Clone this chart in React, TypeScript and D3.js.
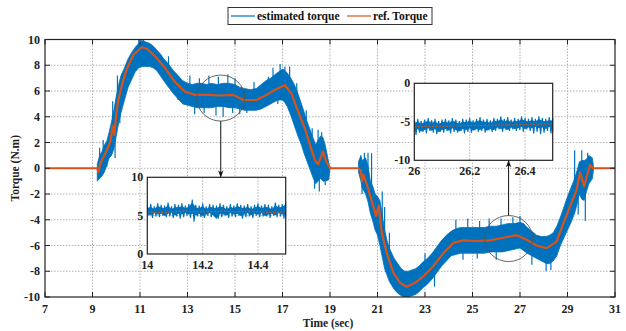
import React from "react";
import * as d3 from "d3";

// ---------- data ----------
const xTicks = [7, 9, 11, 13, 15, 17, 19, 21, 23, 25, 27, 29, 31];
const yTicks = [-10, -8, -6, -4, -2, 0, 2, 4, 6, 8, 10];

// reference torque
const refT = [7, 9.2, 9.25, 9.33, 9.53, 9.74, 9.85, 9.92, 10.0, 10.08, 10.23, 10.44, 10.72, 11.07, 11.28, 11.63, 12.05, 12.47, 12.9, 13.32, 13.86, 14.37, 14.93, 15.35, 15.9, 16.33, 16.75, 17.1, 17.38, 17.66, 17.94, 18.16, 18.37, 18.5, 18.7, 18.85, 19.0, 20.2, 20.3, 20.35, 20.4, 20.54, 20.75, 20.94, 21.05, 21.18, 21.39, 21.67, 21.95, 22.23, 22.58, 22.93, 23.35, 23.77, 24.19, 24.61, 25.17, 25.74, 26.3, 26.86, 27.28, 27.7, 28.12, 28.54, 28.82, 29.1, 29.38, 29.53, 29.7, 29.95, 30.08, 31];
const refV = [0, 0, -0.3, 0.4, 1.1, 2.0, 3.3, 2.6, 4.2, 5.2, 6.4, 7.7, 8.8, 9.4, 9.3, 8.7, 7.8, 6.7, 5.95, 5.7, 5.7, 5.65, 5.7, 5.3, 5.3, 5.7, 6.15, 6.45, 5.8, 4.4, 3.1, 1.8, 0.6, 0.3, 1.3, 0.5, 0, 0, -0.2, -1.0, -0.5, -1.2, -2.5, -3.7, -2.9, -5.0, -6.6, -8.1, -8.9, -9.2, -8.9, -8.4, -7.6, -6.6, -5.8, -5.6, -5.65, -5.6, -5.4, -5.2, -5.55, -6.0, -6.2, -5.7, -4.3, -3.0, -1.7, -0.3, -1.4, 0.25, 0, 0];

// estimated torque: envelope of the noisy signal (NaN = gap)
const estT = [9.2, 9.3, 9.4, 9.5, 9.6, 9.7, 9.8, 9.9, 10.0, 10.1, 10.2, 10.3, 10.5, 10.65, 10.8, 10.95, 11.1, 11.25, 11.4, 11.55, 11.7, 11.85, 12.0, 12.2, 12.4, 12.6, 12.8, 13.0, 13.2, 13.4, 13.6, 13.8, 14.0, 14.25, 14.5, 14.75, 15.0, 15.2, 15.4, 15.65, 15.9, 16.1, 16.3, 16.5, 16.7, 16.85, 17.0, 17.1, 17.2, 17.35, 17.5, 17.65, 17.8, 17.9, 18.0, 18.1, 18.2, 18.3, 18.4, 18.5, 18.6, 18.7, 18.8, 18.95, 19.0,
  19.5,
  20.2, 20.3, 20.35, 20.5, 20.6, 20.7, 20.8, 20.9, 21.0, 21.1, 21.2, 21.3, 21.4, 21.5, 21.6, 21.7, 21.85, 22.0, 22.15, 22.3, 22.45, 22.6, 22.75, 22.9, 23.1, 23.3, 23.5, 23.7, 23.9, 24.1, 24.3, 24.5, 24.75, 25.0, 25.25, 25.5, 25.75, 26.0, 26.25, 26.5, 26.75, 27.0, 27.15, 27.3, 27.5, 27.7, 27.9, 28.1, 28.25, 28.4, 28.55, 28.7, 28.85, 29.0, 29.15, 29.3, 29.4, 29.5, 29.6, 29.7, 29.8, 29.9, 30.05, 30.1];
const estHi = [0.3, 1.0, 1.3, 1.8, 2.1, 2.8, 3.6, 4.5, 5.6, 6.5, 7.2, 7.6, 8.5, 9.0, 9.4, 9.7, 9.9, 9.8, 9.7, 9.5, 9.2, 8.9, 8.5, 8.1, 7.6, 7.2, 6.8, 6.6, 6.5, 6.6, 6.6, 6.5, 6.6, 6.5, 6.6, 6.6, 6.5, 6.3, 6.2, 6.1, 6.2, 6.5, 6.8, 7.0, 7.3, 7.5, 7.7, 7.6, 7.4, 7.0, 6.5, 5.8, 5.0, 4.4, 3.8, 3.3, 2.8, 2.3, 1.8, 2.2, 2.5, 2.4, 1.8, 0.4, 0,
  NaN,
  0.5, 1.0, 0.6, 0.8, 0.2, -1.0, -1.4, -2.0, -2.2, -2.5, -3.6, -4.8, -5.6, -6.2, -6.6, -7.0, -7.4, -7.8, -8.0, -8.0, -7.9, -7.8, -7.6, -7.3, -7.0, -6.6, -6.1, -5.6, -5.2, -4.9, -4.7, -4.6, -4.6, -4.6, -4.6, -4.6, -4.5, -4.5, -4.4, -4.3, -4.3, -4.2, -4.3, -4.6, -4.9, -5.2, -5.3, -5.3, -5.2, -5.0, -4.5, -3.8, -3.0, -2.2, -1.5, -0.8, -0.2, 0.5, 0.6, 0.6, 0.7, 1.0, 0.8, 0];
const estLo = [-1.0, -0.8, -0.6, -0.3, 0.2, 0.8, 1.0, 1.5, 2.5, 3.5, 4.3, 5.0, 6.3, 6.9, 7.5, 7.8, 7.9, 7.9, 7.9, 7.8, 7.6, 7.2, 6.8, 6.3, 5.8, 5.4, 5.0, 4.9, 4.8, 4.7, 4.7, 4.7, 4.7, 4.8, 4.8, 4.7, 4.7, 4.6, 4.5, 4.5, 4.5, 4.6, 4.8, 5.0, 5.2, 5.3, 5.3, 5.1, 4.8, 4.1, 3.3, 2.5, 1.8, 1.2, 0.7, 0.2, -0.3, -0.8, -1.2, -1.0, -0.8, -1.0, -1.0, -0.9, 0,
  NaN,
  -0.3, -1.0, -1.5, -2.0, -2.6, -3.5, -4.1, -4.8, -5.2, -6.0, -6.9, -7.8, -8.3, -8.8, -9.1, -9.4, -9.7, -9.9, -10, -10, -9.9, -9.8, -9.6, -9.3, -9.0, -8.6, -8.1, -7.6, -7.2, -6.8, -6.7, -6.6, -6.6, -6.6, -6.6, -6.6, -6.5, -6.5, -6.5, -6.4, -6.3, -6.2, -6.4, -6.6, -6.8, -7.0, -7.2, -7.4, -7.4, -7.2, -6.8, -6.0, -5.4, -4.8, -4.2, -3.5, -2.8, -2.0, -2.4, -2.5, -1.8, -1.2, -0.8, 0];

// isolated noise spikes of the estimated torque
const spikeT = [9.3, 9.45, 9.6, 9.85, 9.95, 10.05, 10.15, 10.95, 11.05, 11.15, 12.2, 12.6, 13.1, 13.3, 13.5, 13.7, 13.9, 14.2, 14.3, 14.5, 14.7, 14.9, 15.0, 15.2, 15.5, 15.8, 16.4, 16.6, 16.8, 16.9, 17.1, 17.3, 17.6, 17.65, 18.0, 18.25, 18.35, 18.5, 18.55, 18.65, 18.8,
  20.3, 20.45, 20.6, 20.75, 20.35, 21.0, 21.3, 21.5, 21.2, 22.1, 22.3, 23.0, 23.4, 24.3, 24.6, 24.8, 25.2, 25.3, 25.7, 26.0, 26.2, 26.7, 27.0, 27.5, 28.1, 28.3, 28.9, 29.3, 29.45, 29.6, 29.75, 29.85];
const spikeV = [1.6, 2.2, 0.1, 5.2, 0.8, 7.2, 3.5, 10, 10, 10, 8.7, 5.3, 7.2, 4.2, 7.0, 4.3, 7.2, 4.1, 7.1, 4.0, 7.3, 4.3, 7.0, 4.2, 4.3, 6.7, 7.1, 7.8, 5.0, 8.1, 7.9, 7.9, 6.6, 3.0, 4.5, 3.1, -1.6, 3.0, -1.8, 2.8, -1.3,
  0.9, 1.2, 1.2, 1.16, -2.0, -5.0, -3.0, -5.0, -1.8, -10, -10, -6.6, -9.2, -4.0, -7.1, -3.9, -7.0, -4.1, -3.9, -7.1, -3.9, -3.8, -3.7, -7.5, -8.0, -7.9, -3.0, 1.4, -3.6, 1.4, -4.1, 1.2];

// zoom inset 1 (14 .. 14.5 s)
const in1XTicks = [14, 14.2, 14.4];
const in1YTicks = [0, 5, 10];
const in1Hi = [6.3, 6.5, 6.2, 6.6, 6.4, 6.3, 6.7, 6.2, 6.5, 6.4, 6.6, 6.3, 6.5, 7.1, 6.4, 6.3, 6.6, 6.2, 6.5, 6.4, 6.3, 6.6, 6.4, 6.2, 6.5, 6.3, 6.6, 6.4, 6.3, 6.5, 6.2, 6.4, 6.6, 6.3, 6.5, 6.4, 6.2, 6.7, 6.4, 6.5, 6.8];
const in1Lo = [4.9, 4.7, 5.0, 4.8, 4.9, 4.6, 4.9, 5.0, 4.7, 4.9, 4.8, 5.0, 4.8, 4.9, 4.7, 4.9, 4.6, 4.8, 5.0, 4.7, 4.2, 4.9, 4.8, 4.7, 5.0, 4.8, 4.9, 4.6, 4.8, 5.0, 4.7, 4.9, 4.8, 5.0, 4.6, 4.8, 4.9, 4.7, 5.0, 4.8, 4.9];
const in1Ref = [5.5, 5.4, 5.5, 5.6, 5.5, 5.5, 5.6, 5.5, 5.6, 5.5, 5.4, 5.5];

// zoom inset 2 (26 .. 26.5 s)
const in2XTicks = [26, 26.2, 26.4];
const in2YTicks = [-10, -5, 0];
const in2Hi = [-4.8, -4.6, -4.9, -4.7, -4.5, -4.8, -4.6, -4.9, -4.7, -4.6, -4.8, -4.5, -4.7, -4.9, -4.6, -4.7, -4.5, -4.8, -4.6, -4.4, -4.7, -4.6, -4.8, -4.5, -4.6, -4.3, -4.6, -4.4, -4.7, -4.5, -4.6, -4.3, -4.5, -4.6, -4.4, -4.6, -4.3, -4.5, -4.6, -4.4, -4.5];
const in2Lo = [-6.5, -6.3, -6.6, -6.4, -6.2, -6.5, -6.3, -6.7, -6.4, -6.3, -6.5, -6.2, -6.4, -6.6, -6.3, -6.4, -6.2, -6.5, -6.3, -6.4, -6.2, -6.5, -6.3, -6.4, -6.1, -6.3, -6.2, -6.4, -6.1, -6.3, -6.2, -6.0, -6.3, -6.1, -6.2, -6.0, -6.2, -6.1, -6.3, -6.0, -6.2];
const in2Ref = [-5.65, -5.6, -5.6, -5.55, -5.5, -5.5, -5.45, -5.4, -5.4, -5.35, -5.3, -5.3];

// zoom circles (centre in data units)
const circ1 = [14.4, 5.45];
const circ2 = [26.52, -5.46];

const legendLabels = ["estimated torque", "ref. Torque"];

// ---------- styles ----------
const BLUE = "#0072BD";
const ORANGE = "#D95319";
const FONT = "'Liberation Serif', 'Times New Roman', serif";

const W = 626, H = 331;

function Inset({ x, y, xTicks, yTicks, hi, lo, ref, fmtX }: any) {
  const [x0, x1] = x.domain();
  const n = hi.length;
  const step = (x1 - x0) / (n - 1);
  const pts: [number, number][] = [];
  const band = hi.map((h: number, i: number) => ({ t: x0 + step * i, hi: h, lo: lo[i] }));
  for (let i = 0; i < n; i++) {
    const t = x0 + step * i;
    pts.push([x(t), y(hi[i])]);
    const t2 = Math.min(x1, t + step / 2);
    pts.push([x(t2), y(lo[(i + 7) % n])]);
  }
  const bandArea = d3.area<any>()
    .x((d) => x(d.t))
    .y0((d) => y(d.lo + 0.35))
    .y1((d) => y(d.hi - 0.35));
  const refPts: [number, number][] = ref.map((v: number, i: number) => [x(x0 + ((x1 - x0) * i) / (ref.length - 1)), y(v)]);
  const line = d3.line();
  const [l, r] = x.range();
  const [b, t] = y.range();
  return (
    <g>
      <rect x={l} y={t} width={r - l} height={b - t} fill="white" />
      {xTicks.slice(1).map((v: number) => (
        <line key={"gx" + v} x1={x(v)} x2={x(v)} y1={t} y2={b} stroke="#9a9a9a" strokeWidth={0.8} strokeDasharray="1.5,1.5" />
      ))}
      {yTicks.slice(1, -1).map((v: number) => (
        <line key={"gy" + v} x1={l} x2={r} y1={y(v)} y2={y(v)} stroke="#9a9a9a" strokeWidth={0.8} strokeDasharray="1.5,1.5" />
      ))}
      <path d={bandArea(band) || ""} fill={BLUE} />
      <path d={line(pts) || ""} fill="none" stroke={BLUE} strokeWidth={1.1} />
      <path d={line(refPts) || ""} fill="none" stroke={ORANGE} strokeWidth={1} strokeDasharray="2,1.5" />
      <rect x={l} y={t} width={r - l} height={b - t} fill="none" stroke="#222" strokeWidth={1.2} />
      {xTicks.map((v: number) => (
        <text key={"tx" + v} x={x(v)} y={b + 15} textAnchor="middle" fontFamily={FONT} fontWeight="bold" fontSize={12} fill="#222">{fmtX(v)}</text>
      ))}
      {yTicks.map((v: number) => (
        <text key={"ty" + v} x={l - 4} y={y(v) + 4} textAnchor="end" fontFamily={FONT} fontWeight="bold" fontSize={12} fill="#222">{v}</text>
      ))}
    </g>
  );
}

export default function App() {
  const x = d3.scaleLinear().domain([7, 31]).range([45, 615]);
  const y = d3.scaleLinear().domain([-10, 10]).range([297, 39.5]);
  const [L, R] = x.range();
  const [B, T] = y.range();

  const est = estT.map((t, i) => ({ t, hi: estHi[i], lo: estLo[i] }));
  const area = d3.area<any>()
    .defined((d) => !isNaN(d.hi))
    .x((d) => x(d.t))
    .y0((d) => y(d.lo))
    .y1((d) => y(d.hi));
  const refLine = d3.line<number>().x((_, i) => x(refT[i])).y((v) => y(v));
  const refInterp = (t: number) => {
    const i = d3.bisectLeft(refT, t);
    if (i <= 0) return refV[0];
    if (i >= refT.length) return refV[refV.length - 1];
    const a = refT[i - 1], b = refT[i];
    return refV[i - 1] + ((refV[i] - refV[i - 1]) * (t - a)) / (b - a);
  };

  const x1 = d3.scaleLinear().domain([14, 14.5]).range([147.3, 285.7]);
  const y1 = d3.scaleLinear().domain([0, 10]).range([254, 177.3]);
  const x2 = d3.scaleLinear().domain([26, 26.5]).range([414.3, 552.7]);
  const y2 = d3.scaleLinear().domain([-10, 0]).range([160.3, 83.3]);

  const c1x = x(circ1[0]), c1y = y(circ1[1]);
  const c2x = x(circ2[0]), c2y = y(circ2[1]);
  const crx = 24, cry = 23;

  return (
    <svg width={W} height={H} style={{ position: "absolute", left: 0, top: 0, background: "white" }}>
      <defs>
        <clipPath id="plotClip"><rect x={L} y={T} width={R - L} height={B - T} /></clipPath>
        <marker id="arrowHead" viewBox="0 0 10 10" refX="10" refY="5" markerWidth="7" markerHeight="7" orient="auto">
          <path d="M0,1 L10,5 L0,9 L3,5 z" fill="#111" />
        </marker>
      </defs>
      <rect x={0} y={0} width={W} height={H} fill="white" />
      {/* grid */}
      {xTicks.slice(1, -1).map((v) => (
        <line key={"gx" + v} x1={x(v)} x2={x(v)} y1={T} y2={B} stroke="#a0a0a0" strokeWidth={0.8} strokeDasharray="1.5,1.5" />
      ))}
      {yTicks.slice(1, -1).map((v) => (
        <line key={"gy" + v} x1={L} x2={R} y1={y(v)} y2={y(v)} stroke="#a0a0a0" strokeWidth={0.8} strokeDasharray="1.5,1.5" />
      ))}
      {/* data */}
      <g clipPath="url(#plotClip)">
        <path d={area(est) || ""} fill={BLUE} stroke={BLUE} strokeWidth={0.8} />
        {spikeT.map((t, i) => (
          <line key={"sp" + i} x1={x(t)} x2={x(t)} y1={y(refInterp(t))} y2={y(spikeV[i])} stroke={BLUE} strokeWidth={1.2} />
        ))}
        <path d={refLine(refV) || ""} fill="none" stroke={ORANGE} strokeWidth={2.2} strokeLinejoin="round" />
      </g>
      {/* axes box & ticks */}
      <rect x={L} y={T} width={R - L} height={B - T} fill="none" stroke="#222" strokeWidth={1.2} />
      {xTicks.map((v) => (
        <g key={"xt" + v}>
          <line x1={x(v)} x2={x(v)} y1={B} y2={B - 5} stroke="#222" />
          <line x1={x(v)} x2={x(v)} y1={T} y2={T + 5} stroke="#222" />
          <text x={x(v)} y={B + 16} textAnchor="middle" fontFamily={FONT} fontWeight="bold" fontSize={12} fill="#222">{v}</text>
        </g>
      ))}
      {yTicks.map((v) => (
        <g key={"yt" + v}>
          <line x1={L} x2={L + 5} y1={y(v)} y2={y(v)} stroke="#222" />
          <line x1={R} x2={R - 5} y1={y(v)} y2={y(v)} stroke="#222" />
          <text x={L - 5} y={y(v) + 4} textAnchor="end" fontFamily={FONT} fontWeight="bold" fontSize={12} fill="#222">{v}</text>
        </g>
      ))}
      <text x={(L + R) / 2 - 2} y={327} textAnchor="middle" fontFamily={FONT} fontWeight="bold" fontSize={11.5} fill="#222">Time (sec)</text>
      <text transform={`translate(19,${(T + B) / 2}) rotate(-90)`} textAnchor="middle" fontFamily={FONT} fontWeight="bold" fontSize={11.5} fill="#222">Torque (N.m)</text>

      {/* zoom circles and arrows */}
      <ellipse cx={c1x} cy={c1y} rx={crx} ry={cry} fill="none" stroke="#555" strokeWidth={0.9} />
      <ellipse cx={c2x} cy={c2y} rx={crx} ry={cry} fill="none" stroke="#555" strokeWidth={0.9} />
      <line x1={c1x} x2={c1x} y1={c1y + cry} y2={y1.range()[1]} stroke="#111" strokeWidth={1} markerEnd="url(#arrowHead)" />

      <Inset x={x1} y={y1} xTicks={in1XTicks} yTicks={in1YTicks} hi={in1Hi} lo={in1Lo} ref={in1Ref} fmtX={(v: number) => String(v)} />
      <Inset x={x2} y={y2} xTicks={in2XTicks} yTicks={in2YTicks} hi={in2Hi} lo={in2Lo} ref={in2Ref} fmtX={(v: number) => String(v)} />
      <line x1={c2x} x2={c2x} y1={c2y - cry} y2={y2.range()[0]} stroke="#111" strokeWidth={1} markerEnd="url(#arrowHead)" />

      {/* legend */}
      <g>
        <rect x={228} y={7.5} width={204} height={17} fill="white" stroke="#333" strokeWidth={1} />
        <line x1={231} x2={255} y1={16} y2={16} stroke={BLUE} strokeOpacity={0.6} strokeWidth={2} />
        <text x={257} y={20} fontFamily={FONT} fontWeight="bold" fontSize={11.5} fill="#111">{legendLabels[0]}</text>
        <line x1={347} x2={371} y1={16} y2={16} stroke={ORANGE} strokeOpacity={0.6} strokeWidth={2} />
        <text x={373} y={20} fontFamily={FONT} fontWeight="bold" fontSize={11.5} fill="#111">{legendLabels[1]}</text>
      </g>
    </svg>
  );
}
